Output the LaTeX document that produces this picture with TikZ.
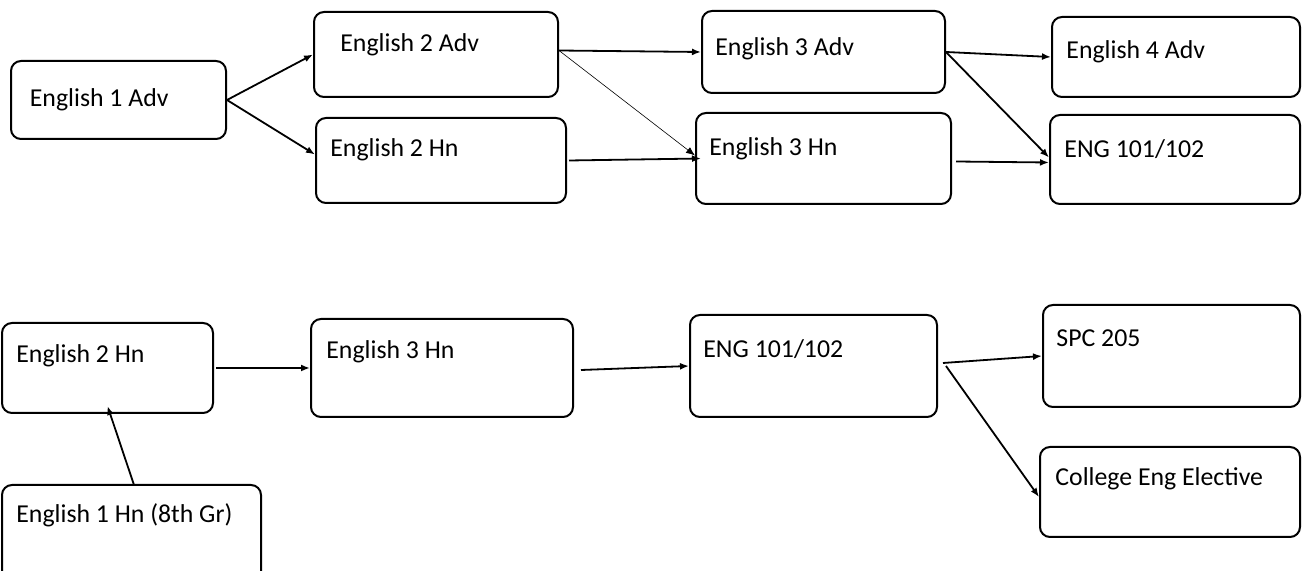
\documentclass[tikz,border=0pt]{standalone}
\usepackage{fontspec}
\setmainfont{Carlito}
\usetikzlibrary{fit, arrows.meta}

\begin{document}
\begin{tikzpicture}[x=0.5pt, y=-0.5pt,
        box/.style={draw, line width=1pt, rounded corners=5pt, inner sep=0pt},
        txt/.style={anchor=west, inner sep=0pt, font=\fontsize{12.9}{15}\selectfont},
        arr/.style={-{Latex[length=4.5pt, width=3.5pt]}, line width=0.9pt}]
        \useasboundingbox (0, 0) rectangle (1302, 571);

        % upper track
        \node[box, fit={(11, 61) (226, 139)}] (adv1) {};
        \node[box, fit={(314, 12) (558, 97)}] (adv2) {};
        \node[box, fit={(316, 118) (566, 203)}] (hn2) {};
        \node[box, fit={(702, 11) (945, 93)}] (adv3) {};
        \node[box, fit={(696, 113) (951, 204)}] (hn3) {};
        \node[box, fit={(1052, 17) (1300, 97)}] (adv4) {};
        \node[box, fit={(1050, 115) (1300, 204)}] (eng) {};

        \node[txt] at (29.5, 100) {English 1 Adv};
        \node[txt] at (340, 45) {English 2 Adv};
        \node[txt] at (330, 150) {English 2 Hn};
        \node[txt] at (715, 49) {English 3 Adv};
        \node[txt] at (709, 149) {English 3 Hn};
        \node[txt] at (1066, 52) {English 4 Adv};
        \node[txt] at (1064, 149) {ENG 101/102};

        \draw[arr] (adv1.east) to (adv2.west);
        \draw[arr] (adv1.east) to ([yshift=3pt]hn2.west);
        \draw[arr] ([yshift=2pt]adv2.east) to (adv3.west);
        \draw[arr, line width=0.3pt] ([yshift=2pt]adv2.east) to ([yshift=1.5pt]hn3.west);
        \draw[arr] ([xshift=1pt]hn2.east) to ([xshift=3pt]hn3.west);
        \draw[arr] (adv3.east) to (adv4.west);
        \draw[arr] (adv3.east) to ([yshift=1pt]eng.west);
        \draw[arr] ([xshift=2pt, yshift=-1.5pt]hn3.east) to ([yshift=-1.5pt]eng.west);

        % lower track
        \node[box, fit={(2, 323) (213, 413)}] (hnb2) {};
        \node[box, fit={(311, 319) (573, 417)}] (hnb3) {};
        \node[box, fit={(690, 315) (937, 417)}] (engb) {};
        \node[box, fit={(1043, 305) (1300, 407)}] (spc) {};
        \node[box, fit={(1040, 447) (1300, 537)}] (elec) {};
        \node[box, fit={(2, 485) (261, 600)}] (hnb1) {};

        \node[txt] at (16, 356) {English 2 Hn};
        \node[txt] at (326, 352) {English 3 Hn};
        \node[txt] at (703, 349) {ENG 101/102};
        \node[txt] at (1056, 338) {SPC 205};
        \node[txt] at (1055, 479) {College Eng Elective};
        \node[txt] at (16, 515) {English 1 Hn (8th Gr)};

        \draw[arr] ([xshift=1pt]hnb2.east) to (hnb3.west);
        \draw[arr] (134, 485) to ([yshift=4pt]hnb2.south);
        \draw[arr] ([xshift=3.5pt, yshift=-1pt]hnb3.east) to (engb.west);
        \draw[arr] ([xshift=2.5pt, yshift=1.5pt]engb.east) to (spc.west);
        \draw[arr] ([xshift=4pt]engb.east) to ([yshift=-2.5pt]elec.west);
\end{tikzpicture}
\end{document}
